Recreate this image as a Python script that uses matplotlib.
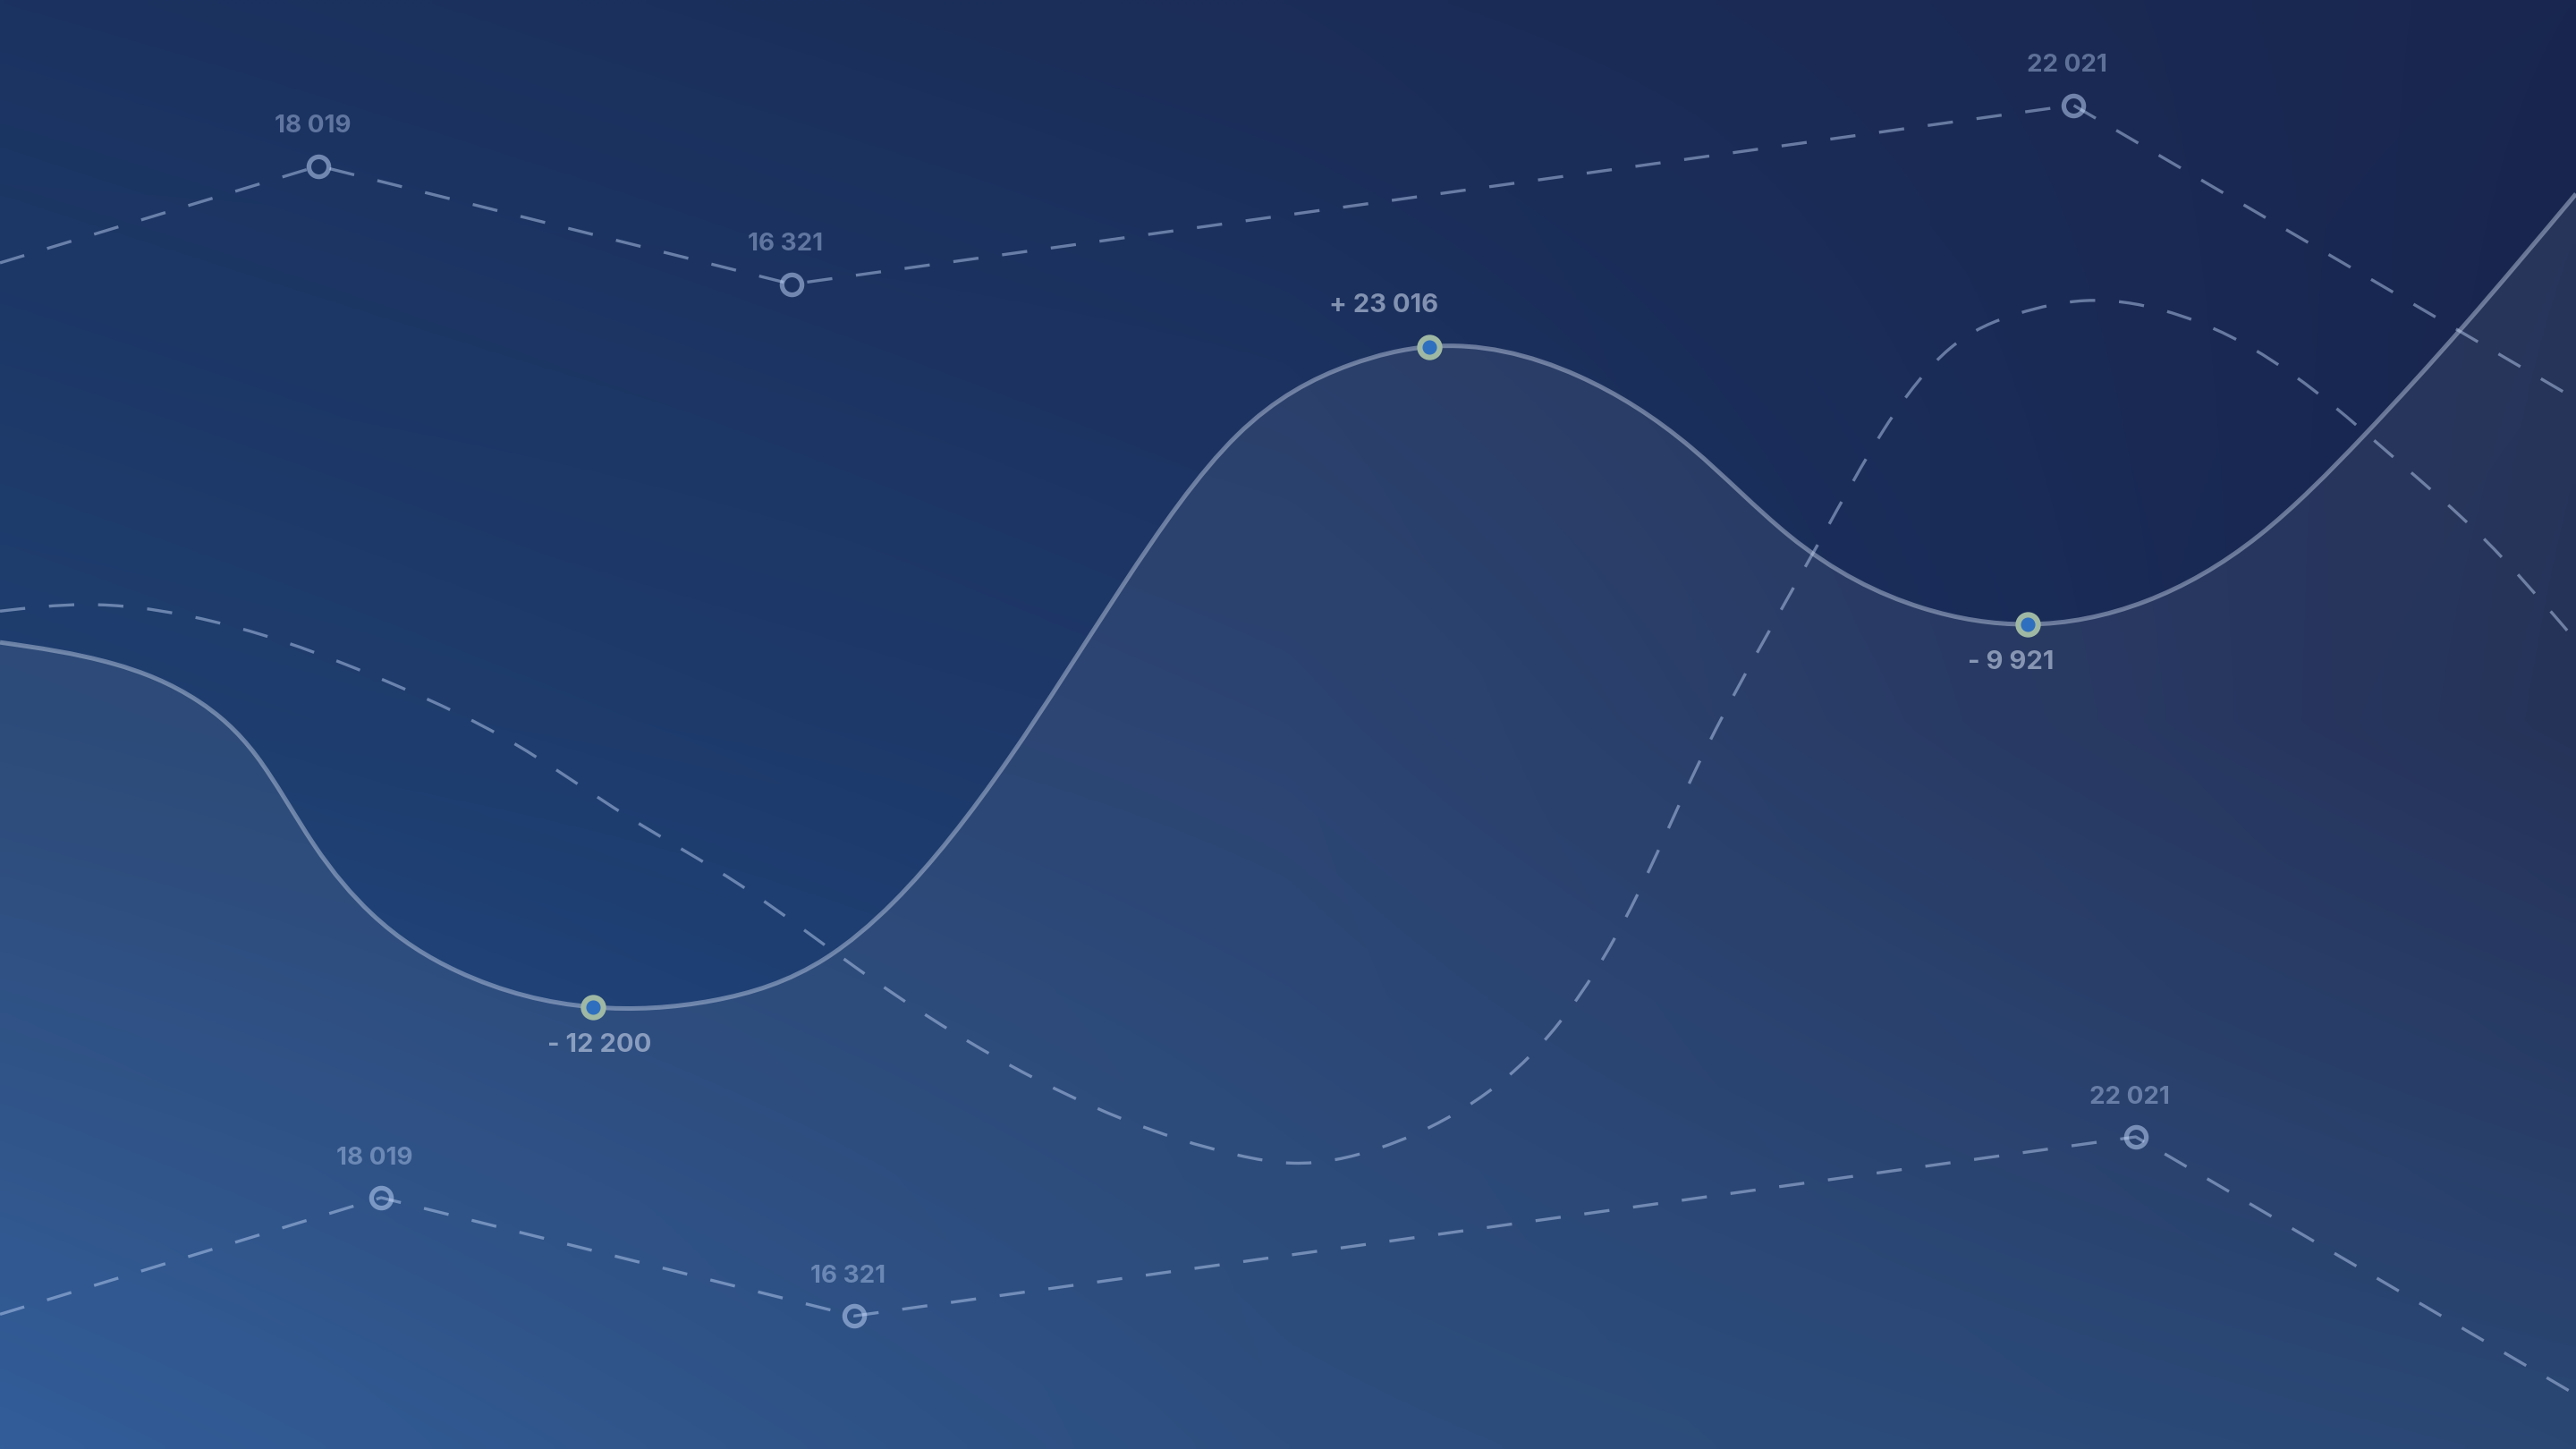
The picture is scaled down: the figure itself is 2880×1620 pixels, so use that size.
import matplotlib.pyplot as plt
import numpy as np
from matplotlib.path import Path
from matplotlib.patches import PathPatch
from matplotlib.colors import to_rgb

# main (solid) series
main_x = [0, 69, 121, 156, 191, 226, 278, 361, 434, 503, 544, 614, 683, 753, 822, 870,
          961, 1030, 1089, 1170, 1234, 1306, 1375, 1439, 1500, 1568]
main_y = [491, 478, 455, 422, 368, 326, 291, 269, 273, 299, 333, 420, 525, 617, 660, 671,
          653, 609, 556, 512, 502, 516, 556, 617, 684, 764]
main_marks = [7, 15, 20]
main_labels = ['- 12 200', '+ 23 016', '- 9 921']

# dashed smooth trend
trend_x = [0, 52, 115, 174, 243, 312, 382, 451, 521, 614, 683, 753, 787, 839, 892, 943,
           996, 1030, 1068, 1109, 1147, 1187, 1228, 1269, 1317, 1358, 1409, 1460, 1511, 1568]
trend_y = [510, 514, 507, 491, 464, 430, 385, 343, 293, 234, 201, 179, 174, 183, 208, 252,
           336, 409, 482, 555, 621, 670, 691, 699, 693, 677, 644, 601, 555, 492]

# dashed polylines
upper_x = [0, 194, 482, 1262, 1568]
upper_y = [722, 781, 709, 818, 639]
lower_x = [0, 232, 520, 1300, 1568]
lower_y = [82, 153, 81, 190, 33]
point_labels = ['18 019', '16 321', '22 021']

W, H = 1568, 882
FONT = ['Inter', 'DejaVu Sans']


def smooth_path(xs, ys, close_bottom=False):
    # natural cubic spline y(x), written out as bezier segments
    x = np.asarray(xs, float)
    y = np.asarray(ys, float)
    n = len(x)
    h = np.diff(x)
    A = np.zeros((n, n))
    b = np.zeros(n)
    A[0, 0] = A[-1, -1] = 1
    for i in range(1, n - 1):
        A[i, i - 1] = h[i - 1]
        A[i, i] = 2 * (h[i - 1] + h[i])
        A[i, i + 1] = h[i]
        b[i] = 6 * ((y[i + 1] - y[i]) / h[i] - (y[i] - y[i - 1]) / h[i - 1])
    M = np.linalg.solve(A, b)
    m = np.empty(n)
    m[:-1] = (y[1:] - y[:-1]) / h - h * (2 * M[:-1] + M[1:]) / 6
    m[-1] = (y[-1] - y[-2]) / h[-1] + h[-1] * (M[-2] + 2 * M[-1]) / 6
    verts = [(x[0], y[0])]
    codes = [Path.MOVETO]
    for i in range(n - 1):
        verts += [(x[i] + h[i] / 3, y[i] + m[i] * h[i] / 3),
                  (x[i + 1] - h[i] / 3, y[i + 1] - m[i + 1] * h[i] / 3),
                  (x[i + 1], y[i + 1])]
        codes += [Path.CURVE4] * 3
    if close_bottom:
        verts += [(x[-1], -10), (x[0], -10), (x[0], y[0])]
        codes += [Path.LINETO, Path.LINETO, Path.CLOSEPOLY]
    return Path(verts, codes)


def gradient(grid, nx, ny):
    grid = np.array([[to_rgb(c) for c in row] for row in grid])
    gx = np.linspace(0, grid.shape[1] - 1, nx)
    gy = np.linspace(0, grid.shape[0] - 1, ny)
    rows = np.array([[np.interp(gx, np.arange(grid.shape[1]), grid[r, :, c]) for c in range(3)]
                     for r in range(grid.shape[0])])
    out = np.empty((ny, nx, 3))
    for c in range(3):
        for j in range(nx):
            out[:, j, c] = np.interp(gy, np.arange(grid.shape[0]), rows[:, c, j])
    return out


fig = plt.figure(figsize=(14.4, 8.1), dpi=200)
ax = fig.add_axes([0, 0, 1, 1])
ax.set_xlim(0, W)
ax.set_ylim(0, H)
ax.axis('off')

bg = gradient([['#1b3361', '#1b2d58', '#192750'],
               ['#1f3f70', '#1d3768', '#17244d'],
               ['#245292', '#1e4276', '#1b3a6a']], 320, 180)
ax.imshow(bg, extent=[0, W, 0, H], origin='upper', aspect='auto',
          interpolation='bilinear', zorder=0)

dash_col = '#c8dcff'
dash_style = (0, (8.5, 8))

# area under main series
ax.add_patch(PathPatch(smooth_path(main_x, main_y, close_bottom=True),
                       facecolor='#e2e6f0', alpha=0.08, edgecolor='none', zorder=1))

# dashed trend
ax.add_patch(PathPatch(smooth_path(trend_x, trend_y), facecolor='none',
                       edgecolor=dash_col, alpha=0.45, lw=1.2, linestyle=dash_style, zorder=2))

# polylines with hollow markers
for xs, ys in [(upper_x, upper_y), (lower_x, lower_y)]:
    ax.plot(xs, ys, color=dash_col, alpha=0.45, lw=1.2, linestyle=dash_style, zorder=2)
    ax.plot(xs[1:4], ys[1:4], 'o', ms=8, mew=1.9, mfc='none', mec=dash_col, alpha=0.5, zorder=3)
    for i, lab in enumerate(point_labels):
        ax.annotate(lab, (xs[i + 1], ys[i + 1]), xytext=(-2.5, 16), textcoords='offset points',
                    ha='center', va='center', fontsize=10, fontweight='bold', family=FONT,
                    color=dash_col, alpha=0.4, zorder=4)

# main solid line
ax.add_patch(PathPatch(smooth_path(main_x, main_y), facecolor='none',
                       edgecolor='#c8d4ea', alpha=0.45, lw=1.8, zorder=3))
mx = [main_x[i] for i in main_marks]
my = [main_y[i] for i in main_marks]
ax.plot(mx, my, 'o', ms=8, mew=2.2, mfc='#2f6fbf', mec='#9fb8a4', zorder=5)
offsets = [(2.6, -15.2), (-18.5, 16.5), (-6.6, -15.2)]
for x, y, lab, off in zip(mx, my, main_labels, offsets):
    ax.annotate(lab, (x, y), xytext=off, textcoords='offset points', ha='center', va='center',
                fontsize=10.5, fontweight='bold', family=FONT, color='#c8d4ea', alpha=0.6, zorder=6)

fig.savefig('out.png', dpi=200)
